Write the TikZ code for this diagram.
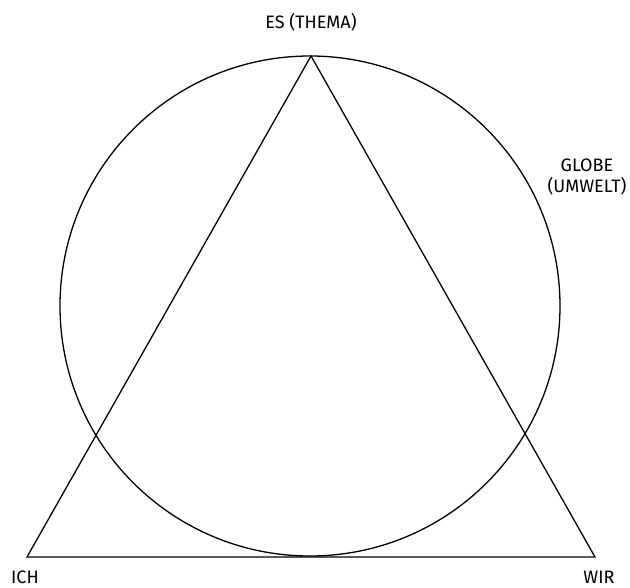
\documentclass[tikz,border=0pt]{standalone}
\usepackage{fontspec}
\setmainfont{Fira Sans}
\begin{document}
\begin{tikzpicture}[x=1pt,y=-1pt, font=\fontsize{18}{21}\selectfont, line width=1.3pt,
  every node/.style={inner sep=1pt}]
\useasboundingbox (0,0) rectangle (630,588);

% ===== Globe =====
\coordinate (mid) at (310,306);
\draw (mid) circle[radius=250];

% ===== Triangle =====
\coordinate (es) at (311,56);
\coordinate (ich) at (27,557);
\coordinate (wir) at (595,557);
\draw[line join=miter] (es) -- (ich) -- (wir) -- cycle;

% ===== Labels =====
\node (lbl-es) at (311,22) {ES (THEMA)};
\node[align=center] (lbl-globe) at (587,177) {GLOBE\\(UMWELT)};
\node (lbl-ich) at (25,577) {ICH};
\node (lbl-wir) at (599,577) {WIR};

\end{tikzpicture}
\end{document}
